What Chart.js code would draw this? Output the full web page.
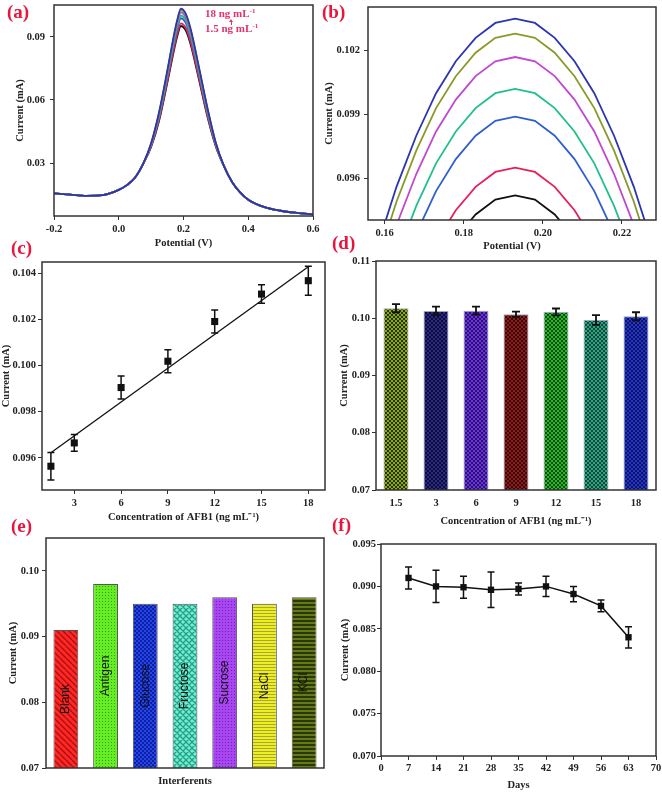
<!DOCTYPE html>
<html>
<head>
<meta charset="utf-8">
<script src="https://cdn.jsdelivr.net/npm/chart.js@4.4.0/dist/chart.umd.min.js"></script>
<style>
  body { margin: 0; background: #fff; width: 662px; height: 793px; overflow: hidden; position: relative; font-family: "Liberation Serif", serif; }
  canvas { position: absolute; }
  .lbl { position: absolute; color: #e8163c; font-weight: bold; font-size: 19px; line-height: 19px; }
  .note { position: absolute; color: #e3336a; font-weight: bold; font-size: 11px; line-height: 11px; white-space: nowrap; }
  .note sup { font-size: 7px; vertical-align: 4px; line-height: 0; }
  .stem { position: absolute; width: 0; border-left: 1px solid #e3336a; }
  .head { position: absolute; width: 0; height: 0; border-left: 2px solid transparent; border-right: 2px solid transparent; border-bottom: 3px solid #e3336a; }
</style>
</head>
<body>
<canvas id="ca" width="331" height="260" style="left:0;top:0"></canvas>
<canvas id="cb" width="342" height="262" style="left:320px;top:0"></canvas>
<canvas id="cc" width="331" height="280" style="left:0;top:250px"></canvas>
<canvas id="cd" width="331" height="280" style="left:331px;top:250px"></canvas>
<canvas id="ce" width="331" height="273" style="left:0;top:520px"></canvas>
<canvas id="cf" width="331" height="273" style="left:331px;top:520px"></canvas>

<div class="lbl" style="left:7px;top:2px">(a)</div>
<div class="lbl" style="left:322px;top:2px">(b)</div>
<div class="lbl" style="left:11px;top:238px">(c)</div>
<div class="lbl" style="left:332px;top:233px">(d)</div>
<div class="lbl" style="left:11px;top:516px">(e)</div>
<div class="lbl" style="left:332px;top:515px">(f)</div>

<div class="note" style="left:205px;top:8px">18 ng mL<sup>-1</sup></div>
<div class="head" style="left:229px;top:19px"></div>
<div class="stem" style="left:231px;top:21px;height:4px"></div>
<div class="note" style="left:205px;top:23px">1.5 ng mL<sup>-1</sup></div>

<script>
// (a) DPV curves, tails shared, peak part per concentration
var aPotLeft = [-0.2, -0.15, -0.1, -0.05, 0, 0.025, 0.05, 0.075];
var aCurLeft = [0.0156, 0.0150, 0.0144, 0.0147, 0.0172, 0.0195, 0.0230, 0.0295];
var aPotPeak = [0.1, 0.125, 0.15, 0.17, 0.18, 0.192, 0.205, 0.215, 0.225, 0.25, 0.275, 0.3];
var aPotRight = [0.325, 0.35, 0.375, 0.4, 0.45, 0.5, 0.55, 0.6];
var aCurRight = [0.0285, 0.0210, 0.0160, 0.0125, 0.0090, 0.0073, 0.0063, 0.0056];
var a18 = [0.0394, 0.0545, 0.0740, 0.0905, 0.0977, 0.1035, 0.1017, 0.0977, 0.0920, 0.0740, 0.0555, 0.0395];
var a15 = [0.0393, 0.0541, 0.0735, 0.0899, 0.0970, 0.1028, 0.1010, 0.0970, 0.0914, 0.0735, 0.0551, 0.0394];
var a12 = [0.0390, 0.0536, 0.0727, 0.0889, 0.0960, 0.1017, 0.1000, 0.0960, 0.0904, 0.0727, 0.0546, 0.0391];
var a9 = [0.0387, 0.0528, 0.0717, 0.0876, 0.0946, 0.1002, 0.0985, 0.0946, 0.0891, 0.0717, 0.0538, 0.0388];
var a6 = [0.0385, 0.0522, 0.0708, 0.0865, 0.0933, 0.0989, 0.0972, 0.0934, 0.0880, 0.0708, 0.0532, 0.0386];
var a3 = [0.0380, 0.0510, 0.0691, 0.0843, 0.0910, 0.0965, 0.0949, 0.0912, 0.0858, 0.0691, 0.0520, 0.0381];
var a1_5 = [0.0377, 0.0504, 0.0682, 0.0832, 0.0898, 0.0952, 0.0936, 0.0900, 0.0847, 0.0682, 0.0514, 0.0378];
var aXTicks = [-0.2, 0, 0.2, 0.4, 0.6];
var aYTicks = [0.03, 0.06, 0.09];

// (b) zoom on the peak
var bPot = [0.153, 0.158, 0.163, 0.168, 0.173, 0.178, 0.183, 0.188, 0.193, 0.198, 0.203, 0.208, 0.213, 0.218, 0.223, 0.228, 0.233];
var b18 = [0.0894, 0.0927, 0.0956, 0.0980, 0.1000, 0.1015, 0.1026, 0.1033, 0.1035, 0.1033, 0.1026, 0.1015, 0.1000, 0.0980, 0.0956, 0.0927, 0.0894];
var b15 = [0.0887, 0.0920, 0.0949, 0.0973, 0.0993, 0.1008, 0.1019, 0.1026, 0.1028, 0.1026, 0.1019, 0.1008, 0.0993, 0.0973, 0.0949, 0.0920, 0.0887];
var b12 = [0.0876, 0.0909, 0.0938, 0.0962, 0.0982, 0.0997, 0.1008, 0.1015, 0.1017, 0.1015, 0.1008, 0.0997, 0.0982, 0.0962, 0.0938, 0.0909, 0.0876];
var b9 = [0.0861, 0.0894, 0.0923, 0.0947, 0.0967, 0.0982, 0.0993, 0.1000, 0.1002, 0.1000, 0.0993, 0.0982, 0.0967, 0.0947, 0.0923, 0.0894, 0.0861];
var b6 = [0.0848, 0.0881, 0.0910, 0.0934, 0.0954, 0.0969, 0.0980, 0.0987, 0.0989, 0.0987, 0.0980, 0.0969, 0.0954, 0.0934, 0.0910, 0.0881, 0.0848];
var b3 = [0.0824, 0.0857, 0.0886, 0.0910, 0.0930, 0.0945, 0.0956, 0.0963, 0.0965, 0.0963, 0.0956, 0.0945, 0.0930, 0.0910, 0.0886, 0.0857, 0.0824];
var b1_5 = [0.0811, 0.0844, 0.0873, 0.0897, 0.0917, 0.0932, 0.0943, 0.0950, 0.0952, 0.0950, 0.0943, 0.0932, 0.0917, 0.0897, 0.0873, 0.0844, 0.0811];
var bXTicks = [0.16, 0.18, 0.20, 0.22];
var bYTicks = [0.096, 0.099, 0.102];

// (c) calibration
var cConc = [1.5, 3, 6, 9, 12, 15, 18];
var cCur = [0.09564, 0.09665, 0.09905, 0.10019, 0.10191, 0.10310, 0.10368];
var cErr = [0.0006, 0.00036, 0.0005, 0.0005, 0.0005, 0.0004, 0.00063];
var cFitX = [1.5, 18];
var cFitY = [0.09622, 0.10428];
var cXTicks = [3, 6, 9, 12, 15, 18];
var cYTicks = [0.096, 0.098, 0.100, 0.102, 0.104];

// (d) reproducibility bars
var dConc = ['1.5', '3', '6', '9', '12', '15', '18'];
var dCur = [0.10175, 0.10128, 0.10133, 0.10070, 0.10110, 0.09970, 0.10035];
var dErr = [0.0007, 0.00075, 0.0007, 0.00045, 0.0006, 0.00085, 0.0007];
var dYTicks = [0.07, 0.08, 0.09, 0.10, 0.11];

// (e) interferents
var eNames = ['Blank', 'Antigen', 'Glucose', 'Fructose', 'Sucrose', 'NaCl', 'KCl'];
var eCur = [0.091, 0.098, 0.095, 0.095, 0.096, 0.095, 0.096];
var eYTicks = [0.07, 0.08, 0.09, 0.10];

// (f) stability
var fDays = [7, 14, 21, 28, 35, 42, 49, 56, 63];
var fCur = [0.0910, 0.0900, 0.0899, 0.0896, 0.0897, 0.0900, 0.0891, 0.0877, 0.0840];
var fErr = [0.0013, 0.0019, 0.0013, 0.0021, 0.0007, 0.0012, 0.0009, 0.0007, 0.00125];
var fXTicks = [0, 7, 14, 21, 28, 35, 42, 49, 56, 63, 70];
var fYTicks = [0.070, 0.075, 0.080, 0.085, 0.090, 0.095];

var curveColors = ['#2a35b0', '#8a9a28', '#c048d0', '#20c08a', '#2f5fcf', '#e8205a', '#111111'];

var serif = '"Liberation Serif", "Times New Roman", serif';
var tickFont = {family: serif, size: 10.5, weight: 'bold'};
var ink = '#222';

function pts(xs, ys) {
    return xs.map(function (x, i) { return {x: x, y: ys[i]}; });
}

// fixed axis box so the plot rectangles land where the figure has them
function fixAxis(size) {
    return function (axis) {
        if (axis.isHorizontal()) { axis.height = size; } else { axis.width = size; }
        axis.paddingLeft = 0; axis.paddingRight = 0; axis.paddingTop = 0; axis.paddingBottom = 0;
    };
}

function setTicks(list) {
    return function (axis) { axis.ticks = list.map(function (v) { return {value: v}; }); };
}

function yAxis(o) {
    return {
        min: o.min, max: o.max,
        afterBuildTicks: o.ticks ? setTicks(o.ticks) : undefined,
        afterFit: fixAxis(o.width),
        border: {display: false},
        grid: {drawOnChartArea: false, drawTicks: true, tickLength: 4, color: '#333'},
        ticks: {font: tickFont, color: ink, padding: o.pad, callback: function (v) { return Number(v).toFixed(o.digits); }},
        title: {display: true, text: 'Current (mA)', font: tickFont, color: ink, padding: {top: o.titlePad, bottom: 0}}
    };
}

var frame = {
    id: 'frame',
    afterDraw: function (chart) {
        var a = chart.chartArea, ctx = chart.ctx;
        ctx.save();
        ctx.strokeStyle = '#333';
        ctx.lineWidth = 1.5;
        ctx.strokeRect(a.left, a.top, a.right - a.left, a.bottom - a.top);
        ctx.restore();
    }
};

var errorBars = {
    id: 'errorBars',
    afterDatasetsDraw: function (chart, args, opts) {
        var ctx = chart.ctx, ys = chart.scales.y;
        chart.data.datasets.forEach(function (ds, i) {
            if (!ds.errors) return;
            var meta = chart.getDatasetMeta(i);
            ctx.save();
            ctx.strokeStyle = '#111';
            ctx.lineWidth = opts.width;
            meta.data.forEach(function (el, j) {
                var d = ds.data[j];
                var v = (typeof d === 'object') ? d.y : d;
                var top = ys.getPixelForValue(v + ds.errors[j]);
                var bot = ys.getPixelForValue(v - ds.errors[j]);
                ctx.beginPath();
                ctx.moveTo(el.x, top); ctx.lineTo(el.x, bot);
                ctx.moveTo(el.x - opts.cap, top); ctx.lineTo(el.x + opts.cap, top);
                ctx.moveTo(el.x - opts.cap, bot); ctx.lineTo(el.x + opts.cap, bot);
                ctx.stroke();
            });
            ctx.restore();
        });
    }
};

// names written up the middle of each bar
var barNames = {
    id: 'barNames',
    afterDraw: function (chart) {
        var ctx = chart.ctx, ys = chart.scales.y, xs = chart.scales.x;
        var vals = chart.data.datasets[0].data;
        ctx.save();
        ctx.fillStyle = '#111';
        ctx.font = '12px "Liberation Sans", Arial, sans-serif';
        ctx.textAlign = 'center';
        ctx.textBaseline = 'middle';
        chart.data.labels.forEach(function (name, j) {
            var cx = xs.getPixelForValue(j);
            var cy = (ys.getPixelForValue(vals[j]) + ys.bottom) / 2;
            ctx.save();
            ctx.translate(cx, cy);
            ctx.rotate(-Math.PI / 2);
            ctx.fillText(name, 0, 0);
            ctx.restore();
        });
        ctx.restore();
    }
};

function pattern(base, fg, kind) {
    var c = document.createElement('canvas');
    var n = {check: 4, dots: 3, diag: 6, cross: 6, hline: 3, hthick: 4}[kind];
    c.width = n; c.height = n;
    var g = c.getContext('2d');
    g.fillStyle = base; g.fillRect(0, 0, n, n);
    g.fillStyle = fg; g.strokeStyle = fg; g.lineWidth = 1.3;
    if (kind === 'check') { g.fillRect(0, 0, 2, 2); g.fillRect(2, 2, 2, 2); }
    if (kind === 'dots') { g.fillRect(0, 0, 1, 1); }
    if (kind === 'hline') { g.fillRect(0, 0, n, 1); }
    if (kind === 'hthick') { g.fillRect(0, 0, n, 2); }
    if (kind === 'diag' || kind === 'cross') {
        g.beginPath();
        [-n, 0, n].forEach(function (o) {
            g.moveTo(o, 0); g.lineTo(o + n, n);
            if (kind === 'cross') { g.moveTo(o + n, 0); g.lineTo(o, n); }
        });
        g.stroke();
    }
    return g.createPattern(c, 'repeat');
}

var common = {responsive: false, animation: false, devicePixelRatio: 1};

// (a)
var aSeries = [a18, a15, a12, a9, a6, a3, a1_5];
new Chart(document.getElementById('ca'), {
    type: 'line',
    data: {
        datasets: aSeries.map(function (s, k) {
            return {
                data: pts(aPotLeft.concat(aPotPeak, aPotRight), aCurLeft.concat(s, aCurRight)),
                borderColor: curveColors[k], borderWidth: 1.8, pointRadius: 0,
                cubicInterpolationMode: 'monotone', fill: false
            };
        })
    },
    options: Object.assign({}, common, {
        layout: {padding: {left: 0, top: 5, right: 18, bottom: 0}},
        plugins: {legend: {display: false}, tooltip: {enabled: false}},
        scales: {
            x: {
                type: 'linear', min: -0.2, max: 0.6,
                afterBuildTicks: setTicks(aXTicks), afterFit: fixAxis(44),
                border: {display: false},
                grid: {drawOnChartArea: false, tickLength: 4, color: '#333'},
                ticks: {font: tickFont, color: ink, padding: 3, callback: function (v) { return Number(v).toFixed(1); }},
                title: {display: true, text: 'Potential (V)', font: tickFont, color: ink, padding: {top: 0, bottom: 10}}
            },
            y: yAxis({min: 0.0048, max: 0.1052, ticks: aYTicks, digits: 2, width: 54, pad: 5, titlePad: 14})
        }
    }),
    plugins: [frame]
});

// (b)
var bSeries = [b18, b15, b12, b9, b6, b3, b1_5];
new Chart(document.getElementById('cb'), {
    type: 'line',
    data: {
        datasets: bSeries.map(function (s, k) {
            return {data: pts(bPot, s), borderColor: curveColors[k], borderWidth: 1.8, pointRadius: 0, tension: 0, fill: false};
        })
    },
    options: Object.assign({}, common, {
        layout: {padding: {left: 0, top: 7, right: 6, bottom: 0}},
        plugins: {legend: {display: false}, tooltip: {enabled: false}},
        scales: {
            x: {
                type: 'linear', min: 0.1558, max: 0.2286,
                afterBuildTicks: setTicks(bXTicks), afterFit: fixAxis(42),
                border: {display: false},
                grid: {drawOnChartArea: false, tickLength: 4, color: '#333'},
                ticks: {font: tickFont, color: ink, padding: 3, callback: function (v) { return Number(v).toFixed(2); }},
                title: {display: true, text: 'Potential (V)', font: tickFont, color: ink, padding: {top: 0, bottom: 9}}
            },
            y: yAxis({min: 0.09404, max: 0.10405, ticks: bYTicks, digits: 3, width: 48, pad: 4, titlePad: 3})
        }
    }),
    plugins: [frame]
});

// (c)
new Chart(document.getElementById('cc'), {
    type: 'scatter',
    data: {
        datasets: [{
            data: pts(cConc, cCur), errors: cErr,
            pointStyle: 'rect', pointRadius: 5, backgroundColor: '#111', borderWidth: 0
        }, {
            type: 'line', data: pts(cFitX, cFitY),
            borderColor: '#111', borderWidth: 1.3, pointRadius: 0, fill: false
        }]
    },
    options: Object.assign({}, common, {
        layout: {padding: {left: 0, top: 12, right: 6, bottom: 0}},
        plugins: {legend: {display: false}, tooltip: {enabled: false}, errorBars: {cap: 3.5, width: 1.5}},
        scales: {
            x: {
                type: 'linear', min: 0.93, max: 19.07,
                afterBuildTicks: setTicks(cXTicks), afterFit: fixAxis(40),
                border: {display: false},
                grid: {drawOnChartArea: false, tickLength: 4, color: '#333'},
                ticks: {font: tickFont, color: ink, padding: 3},
                title: {display: true, text: 'Concentration of AFB1 (ng mL\u207B\u00B9)', font: tickFont, color: ink, padding: {top: 0, bottom: 6}}
            },
            y: yAxis({min: 0.09461, max: 0.10449, ticks: cYTicks, digits: 3, width: 42, pad: 2, titlePad: 0})
        }
    }),
    plugins: [errorBars, frame]
});

// (d)
var dFills = [
    pattern('#8cab0c', '#263000', 'check'),
    pattern('#2a2a88', '#0c0c34', 'check'),
    pattern('#6a36dc', '#2a1070', 'check'),
    pattern('#8c1e1e', '#3a0808', 'check'),
    pattern('#2eb42e', '#0c520c', 'check'),
    pattern('#32a282', '#0c4c38', 'check'),
    pattern('#2636cc', '#0c1462', 'check')
];
new Chart(document.getElementById('cd'), {
    type: 'bar',
    data: {
        labels: dConc,
        datasets: [{data: dCur, errors: dErr, backgroundColor: dFills, borderColor: '#9aa8c4', borderWidth: 1,
            barPercentage: 0.625, categoryPercentage: 1}]
    },
    options: Object.assign({}, common, {
        layout: {padding: {left: 0, top: 11, right: 6, bottom: 0}},
        plugins: {legend: {display: false}, tooltip: {enabled: false}, errorBars: {cap: 4, width: 1.8}},
        scales: {
            x: {
                afterFit: fixAxis(40),
                border: {display: false},
                grid: {display: false, drawTicks: false},
                ticks: {font: tickFont, color: ink, padding: 7},
                title: {display: true, text: 'Concentration of AFB1 (ng mL\u207B\u00B9)', font: tickFont, color: ink, padding: {top: 0, bottom: 2}}
            },
            y: yAxis({min: 0.07, max: 0.11, ticks: dYTicks, digits: 2, width: 45, pad: 2, titlePad: 7})
        }
    }),
    plugins: [errorBars, frame]
});

// (e)
var eFills = [
    pattern('#ff2626', '#a81010', 'diag'),
    pattern('#66ee24', '#3c9c10', 'dots'),
    pattern('#2446ee', '#10209c', 'check'),
    pattern('#6cf2d2', '#2c9c88', 'cross'),
    pattern('#a846f0', '#7020c0', 'dots'),
    pattern('#eeee24', '#a8a830', 'hline'),
    pattern('#627a1a', '#2c3800', 'hthick')
];
new Chart(document.getElementById('ce'), {
    type: 'bar',
    data: {
        labels: eNames,
        datasets: [{data: eCur, backgroundColor: eFills, borderColor: '#555', borderWidth: 1,
            barPercentage: 0.625, categoryPercentage: 1}]
    },
    options: Object.assign({}, common, {
        layout: {padding: {left: 0, top: 18, right: 7, bottom: 0}},
        plugins: {legend: {display: false}, tooltip: {enabled: false}},
        scales: {
            x: {
                afterFit: fixAxis(25),
                border: {display: false},
                grid: {display: false, drawTicks: false},
                ticks: {display: false},
                title: {display: true, text: 'Interferents', font: tickFont, color: ink, padding: {top: 0, bottom: 5}}
            },
            y: yAxis({min: 0.07, max: 0.105, ticks: eYTicks, digits: 2, width: 46, pad: 3, titlePad: 7})
        }
    }),
    plugins: [barNames, frame]
});

// (f)
new Chart(document.getElementById('cf'), {
    type: 'line',
    data: {
        datasets: [{
            data: pts(fDays, fCur), errors: fErr,
            borderColor: '#111', borderWidth: 1.5, fill: false, tension: 0,
            pointStyle: 'rect', pointRadius: 4.5, pointBackgroundColor: '#111', pointBorderWidth: 0
        }]
    },
    options: Object.assign({}, common, {
        layout: {padding: {left: 0, top: 24, right: 6, bottom: 0}},
        plugins: {legend: {display: false}, tooltip: {enabled: false}, errorBars: {cap: 3.5, width: 1.5}},
        scales: {
            x: {
                type: 'linear', min: 0, max: 70,
                afterBuildTicks: setTicks(fXTicks), afterFit: fixAxis(37),
                border: {display: false},
                grid: {drawOnChartArea: false, tickLength: 4, color: '#333'},
                ticks: {font: tickFont, color: ink, padding: 2},
                title: {display: true, text: 'Days', font: tickFont, color: ink, padding: {top: 0, bottom: 1}}
            },
            y: yAxis({min: 0.070, max: 0.095, ticks: fYTicks, digits: 3, width: 50, pad: 1, titlePad: 8})
        }
    }),
    plugins: [errorBars, frame]
});
</script>
</body>
</html>
